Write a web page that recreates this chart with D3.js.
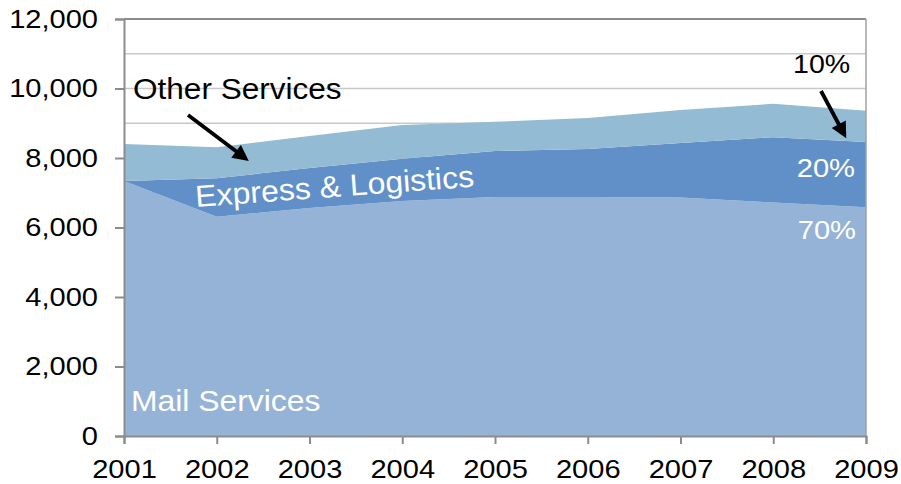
<!DOCTYPE html>
<html>
<head>
<meta charset="utf-8">
<script src="https://cdn.jsdelivr.net/npm/d3@7/dist/d3.min.js"></script>
<style>
  html, body { margin: 0; padding: 0; background: #fff; }
  svg { display: block; font-family: "Liberation Sans", Arial, sans-serif; }
</style>
</head>
<body>
<svg id="chart" width="901" height="484"></svg>
<script>
// Revenue by segment, 2001–2009
const years = [2001, 2002, 2003, 2004, 2005, 2006, 2007, 2008, 2009];
const mailServices = [7340, 6310, 6560, 6760, 6880, 6880, 6860, 6720, 6580];
const expressLogistics = [0, 1110, 1150, 1220, 1320, 1380, 1570, 1880, 1880];
const otherServices = [1060, 890, 920, 970, 840, 890, 950, 960, 900];
const yTicks = [0, 2000, 4000, 6000, 8000, 10000, 12000];
const gridValues = [1000, 2000, 3000, 4000, 5000, 6000, 7000, 8000, 9000, 10000, 11000];

const seriesKeys = ["mail", "express", "other"];
const colors = { mail: "#95B3D7", express: "#6190C8", other: "#93BBD4" };

const rows = years.map((y, i) => ({
  year: y,
  mail: mailServices[i],
  express: expressLogistics[i],
  other: otherServices[i]
}));

const svg = d3.select("#chart");
const m = { left: 124, right: 866, top: 19, bottom: 436 };

const x = d3.scaleLinear().domain([2001, 2009]).range([m.left, m.right]);
const y = d3.scaleLinear().domain([0, 12000]).range([m.bottom, m.top]);

// text in this chart is set slightly wide
const STRETCH = 1.12;

// light horizontal gridlines
svg.append("g").selectAll("line").data(gridValues).join("line")
  .attr("x1", m.left).attr("x2", m.right)
  .attr("y1", d => y(d)).attr("y2", d => y(d))
  .attr("stroke", "#C8C8C8").attr("stroke-width", 1.5);

// stacked areas
const stacked = d3.stack().keys(seriesKeys)(rows);
const area = d3.area()
  .x(d => x(d.data.year))
  .y0(d => y(d[0]))
  .y1(d => y(d[1]));

svg.append("g").selectAll("path").data(stacked).join("path")
  .attr("d", area)
  .attr("fill", d => colors[d.key]);

// plot frame: top and right edges
svg.append("line").attr("x1", m.left).attr("x2", m.right)
  .attr("y1", y(12000)).attr("y2", y(12000))
  .attr("stroke", "#8C8C8C").attr("stroke-width", 2);
svg.append("line").attr("x1", m.right).attr("x2", m.right)
  .attr("y1", m.top).attr("y2", m.bottom)
  .attr("stroke", "#A0A0A0").attr("stroke-width", 1.5);

// y axis
const yAxis = svg.append("g")
  .attr("transform", `translate(${m.left},0)`)
  .call(d3.axisLeft(y).tickValues(yTicks).tickFormat(d3.format(",")).tickSize(9).tickPadding(17));
yAxis.select(".domain").attr("stroke", "#8C8C8C").attr("stroke-width", 2);
yAxis.selectAll(".tick line").attr("stroke", "#8C8C8C").attr("stroke-width", 2);
yAxis.selectAll("text")
  .attr("x", 0)
  .attr("transform", `translate(-26,0) scale(${STRETCH + 0.02},1)`)
  .attr("font-size", 25.5).attr("fill", "#000")
  .attr("font-family", "Liberation Sans, Arial, sans-serif");

// x axis
const xAxis = svg.append("g")
  .attr("transform", `translate(0,${m.bottom})`)
  .call(d3.axisBottom(x).tickValues(years).tickFormat(d3.format("d")).tickSize(8).tickPadding(16));
xAxis.select(".domain").attr("stroke", "#8C8C8C").attr("stroke-width", 2);
xAxis.selectAll(".tick line").attr("stroke", "#8C8C8C").attr("stroke-width", 2);
xAxis.selectAll("text")
  .attr("transform", `scale(${STRETCH + 0.02},1)`)
  .attr("font-size", 25.5).attr("fill", "#000")
  .attr("font-family", "Liberation Sans, Arial, sans-serif");

// arrow marker
svg.append("defs").append("marker")
  .attr("id", "arrowhead").attr("viewBox", "0 0 10 10")
  .attr("refX", 7).attr("refY", 5)
  .attr("markerWidth", 4.6).attr("markerHeight", 4.2)
  .attr("orient", "auto")
  .append("path").attr("d", "M0,0 L10,5 L0,10 z").attr("fill", "#000");

// annotation helper: text placed at (px, py), optionally rotated, stretched horizontally
function note(txt, px, py, size, fill, opts = {}) {
  const rot = opts.rotate || 0;
  const sx = opts.sx || STRETCH;
  return svg.append("text")
    .attr("transform", `translate(${px},${py}) rotate(${rot}) scale(${sx},1)`)
    .attr("font-size", size)
    .attr("fill", fill)
    .attr("text-anchor", opts.anchor || "start")
    .text(txt);
}

note("Other Services", 133, 99, 29.5, "#000", { sx: 1.07 });
svg.append("line").attr("x1", 188).attr("y1", 115).attr("x2", 245).attr("y2", 158)
  .attr("stroke", "#000").attr("stroke-width", 3.8).attr("marker-end", "url(#arrowhead)");

note("Express & Logistics", 196, 207, 30.5, "#fff", { rotate: -4.2, sx: 1.05 });

note("Mail Services", 131, 411, 29.5, "#fff", { sx: 1.08 });

note("10%", 793, 73, 25.5, "#000", { sx: 1.12 });
svg.append("line").attr("x1", 821).attr("y1", 91).attr("x2", 844).attr("y2", 134)
  .attr("stroke", "#000").attr("stroke-width", 3.8).attr("marker-end", "url(#arrowhead)");

note("20%", 855, 177, 26.5, "#fff", { anchor: "end", sx: 1.1 });
note("70%", 856, 239, 26.5, "#fff", { anchor: "end", sx: 1.1 });
</script>
</body>
</html>
